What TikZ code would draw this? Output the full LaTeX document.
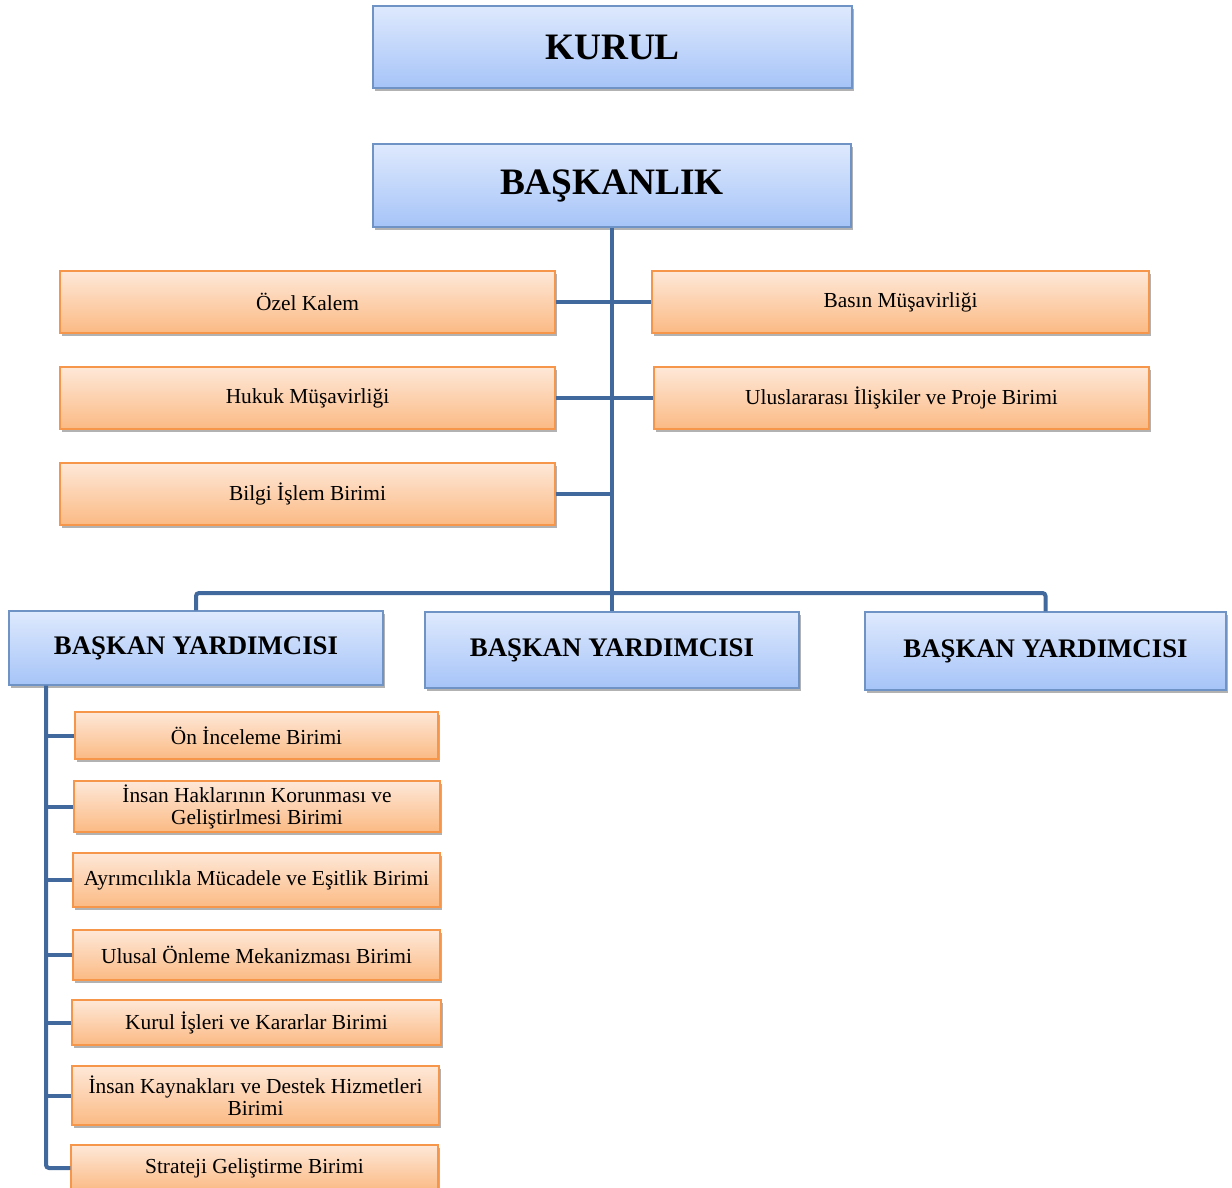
\documentclass[tikz,border=0pt]{standalone}
\usepackage{fontspec}
\setmainfont{Liberation Serif}
\usetikzlibrary{shadows}
\definecolor{bluetop}{HTML}{DEE9FD}
\definecolor{bluebot}{HTML}{A6C4F8}
\definecolor{blueborder}{HTML}{7093C6}
\definecolor{linecol}{HTML}{41699E}
\definecolor{orangetop}{HTML}{FEE8D8}
\definecolor{orangebot}{HTML}{FBBA84}
\definecolor{orangeborder}{HTML}{F5964B}
\tikzset{
  boxshadow/.style={drop shadow={shadow xshift=2pt, shadow yshift=-3pt, opacity=0.3, fill=black}},
  bluebox/.style={draw=blueborder, line width=1.3pt, top color=bluetop, bottom color=bluebot, boxshadow, inner sep=0pt, font=\bfseries},
  bigblue/.style={bluebox, font=\bfseries\fontsize{37.3}{40}\selectfont},
  byblue/.style={bluebox, font=\bfseries\fontsize{26.8}{28}\selectfont},
  orangebox/.style={draw=orangeborder, line width=1.3pt, top color=orangetop, bottom color=orangebot, boxshadow, inner sep=0pt, align=center, font=\fontsize{21.4}{22}\selectfont},
  conn/.style={draw=linecol, line width=4pt},
}
\begin{document}
\begin{tikzpicture}[x=1pt,y=-1pt]
\useasboundingbox (0,0) rectangle (1232,1188);
% top
\node[bigblue, minimum width=479pt, minimum height=82pt] (kurul) at (612.5,47) {KURUL};
\node[bigblue, minimum width=478pt, minimum height=83pt] (bask) at (612,185.5) {BAŞKANLIK};
% side units
\node[orangebox, minimum width=495pt, minimum height=62pt] (ozel) at (307.5,302) {Özel Kalem};
\node[orangebox, minimum width=497pt, minimum height=62pt] (basin) at (900.5,302) {Basın Müşavirliği};
\node[orangebox, minimum width=495pt, minimum height=62pt] (hukuk) at (307.5,398) {Hukuk Müşavirliği};
\node[orangebox, minimum width=495pt, minimum height=62pt] (ulus) at (901.5,398) {Uluslararası İlişkiler ve Proje Birimi};
\node[orangebox, minimum width=495pt, minimum height=62pt] (bilgi) at (307.5,494) {Bilgi İşlem Birimi};
% vice presidents
\node[byblue, minimum width=374pt, minimum height=74pt] (by1) at (196,648) {BAŞKAN YARDIMCISI};
\node[byblue, minimum width=374pt, minimum height=76pt] (by2) at (612,650) {BAŞKAN YARDIMCISI};
\node[byblue, minimum width=361pt, minimum height=78pt] (by3) at (1045.5,651) {BAŞKAN YARDIMCISI};
% sub units
\node[orangebox, minimum width=363pt, minimum height=47pt] (s1) at (256.5,735.5) {Ön İnceleme Birimi};
\node[orangebox, minimum width=366pt, minimum height=51pt] (s2) at (257,806.5) {İnsan Haklarının Korunması ve\\Geliştirlmesi Birimi};
\node[orangebox, minimum width=367pt, minimum height=54pt] (s3) at (256.5,880) {Ayrımcılıkla Mücadele ve Eşitlik Birimi};
\node[orangebox, minimum width=367pt, minimum height=50pt] (s4) at (256.5,955) {Ulusal Önleme Mekanizması Birimi};
\node[orangebox, minimum width=369pt, minimum height=45pt] (s5) at (256.5,1022.5) {Kurul İşleri ve Kararlar Birimi};
\node[orangebox, minimum width=367pt, minimum height=59pt] (s6) at (255.5,1095.5) {İnsan Kaynakları ve Destek Hizmetleri\\Birimi};
\node[orangebox, minimum width=367pt, minimum height=46pt] (s7) at (254.5,1168) {Strateji Geliştirme Birimi};
% connectors
\coordinate (bar) at (612,593);
\coordinate (lft) at (46,700);
\draw[conn] (bask.south) -- (by2.north);
\draw[conn] (ozel.east) -- (basin.west);
\draw[conn] (hukuk.east) -- (ulus.west);
\draw[conn] (bilgi.east) -- (bilgi.east -| bask.south);
\draw[conn, rounded corners=3pt] (by1.north) |- (bar) -| (by3.north);
\draw[conn, rounded corners=3pt] (by1.south -| lft) |- (s7.west);
\foreach \s in {s1,s2,s3,s4,s5,s6}{
  \draw[conn] (\s.west) -- (\s.west -| lft);
}
\end{tikzpicture}
\end{document}
